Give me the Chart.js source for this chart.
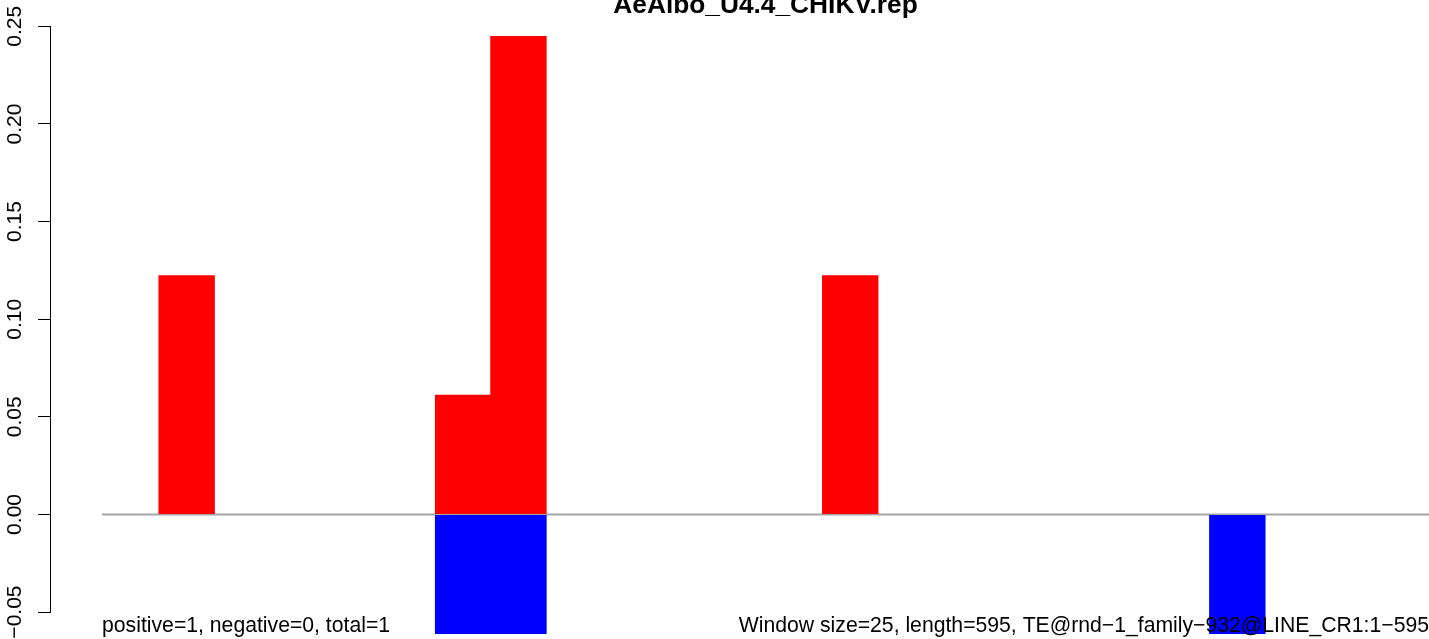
<!DOCTYPE html>
<html>
<head>
<meta charset="utf-8">
<script src="https://cdn.jsdelivr.net/npm/chart.js@4.4.1/dist/chart.umd.min.js"></script>
<style>
    html, body { margin: 0; padding: 0; background: #fff; }
    #wrap { width: 1429px; height: 639px; }
</style>
</head>
<body>
<div id="wrap"><canvas id="chart"></canvas></div>
<script>
// 25 bp windows along the 595 bp element (null = nothing in that window)
let windows = [0, 1, 2, 3, 4, 5, 6, 7, 8, 9, 10, 11, 12, 13, 14, 15, 16, 17, 18, 19, 20, 21, 22, 23]
let positive = [null, 0.1225, null, null, null, null, 0.0613, 0.245, null, null, null, null, null, 0.1225, null, null, null, null, null, null, null, null, null, null]
let negative = [null, null, null, null, null, null, -0.0613, -0.0613, null, null, null, null, null, null, null, null, null, null, null, null, -0.0613, null, null, null]
let yTicks = [-0.05, 0, 0.05, 0.1, 0.15, 0.2, 0.25]

let title = 'AeAlbo_U4.4_CHIKV.rep'
let leftNote = 'positive=1, negative=0, total=1'
let rightNote = 'Window size=25, length=595, TE@rnd\u22121_family\u2212932@LINE_CR1:1\u2212595'

const FONT = "'Liberation Sans', Arial, Helvetica, sans-serif"

function toPoints(values) {
    return values.map((v, i) => { return { x: windows[i], y: v } })
}

const decorations = {
    id: 'decorations',
    beforeDatasetsDraw(chart) {
        const { ctx, chartArea, scales: { x, y } } = chart
        const y0 = y.getPixelForValue(0)
        ctx.save()
        ctx.strokeStyle = '#a6a6a6'
        ctx.lineWidth = 2
        ctx.beginPath()
        ctx.moveTo(x.getPixelForValue(-0.53), y0)
        ctx.lineTo(chartArea.right, y0)
        ctx.stroke()
        ctx.restore()
    },
    afterDraw(chart) {
        const { ctx, chartArea, scales: { x, y } } = chart
        ctx.save()
        // axis line only over the tick range
        ctx.strokeStyle = '#000'
        ctx.lineWidth = 1
        ctx.beginPath()
        ctx.moveTo(Math.round(y.right) - 0.5, y.getPixelForValue(yTicks[0]))
        ctx.lineTo(Math.round(y.right) - 0.5, y.getPixelForValue(yTicks[yTicks.length - 1]))
        ctx.stroke()

        const left = x.getPixelForValue(-0.53)
        ctx.fillStyle = '#000'
        ctx.textBaseline = 'alphabetic'

        ctx.font = 'bold 26.3px ' + FONT
        ctx.textAlign = 'center'
        ctx.fillText(title, (left + chartArea.right) / 2, 12.5)

        ctx.font = '21.2px ' + FONT
        ctx.textAlign = 'left'
        ctx.fillText(leftNote, left, 632)
        ctx.textAlign = 'right'
        ctx.fillText(rightNote, chartArea.right, 632)
        ctx.restore()
    }
}

new Chart(document.getElementById('chart'), {
    type: 'bar',
    data: {
        datasets: [
            { data: toPoints(positive), backgroundColor: '#ff0000' },
            { data: toPoints(negative), backgroundColor: '#0000ff' }
        ]
    },
    options: {
        responsive: true,
        maintainAspectRatio: false,
        animation: false,
        devicePixelRatio: 1,
        datasets: {
            bar: {
                grouped: false,
                borderWidth: 0,
                inflateAmount: 0,
                barPercentage: 1.02,
                categoryPercentage: 1
            }
        },
        layout: { padding: 0 },
        scales: {
            x: {
                type: 'linear',
                offset: false,
                min: -1.453,
                max: 23.466,
                display: false
            },
            y: {
                min: -0.0638,
                max: 0.2635,
                afterBuildTicks: s => { s.ticks = yTicks.map(v => ({ value: v })) },
                afterFit: s => {
                    s.width = 51
                    s.paddingTop = 0
                    s.paddingBottom = 0
                },
                border: { display: false },
                grid: {
                    drawOnChartArea: false,
                    drawTicks: true,
                    tickLength: 13,
                    color: '#000',
                    lineWidth: 1
                },
                ticks: {
                    minRotation: 90,
                    maxRotation: 90,
                    crossAlign: 'center',
                    padding: -4,
                    color: '#000',
                    font: { family: FONT, size: 21 },
                    callback: v => v.toFixed(2).replace('-', '\u2212')
                }
            }
        },
        plugins: {
            legend: { display: false },
            tooltip: { enabled: false },
            title: { display: false }
        }
    },
    plugins: [decorations]
})
</script>
</body>
</html>
